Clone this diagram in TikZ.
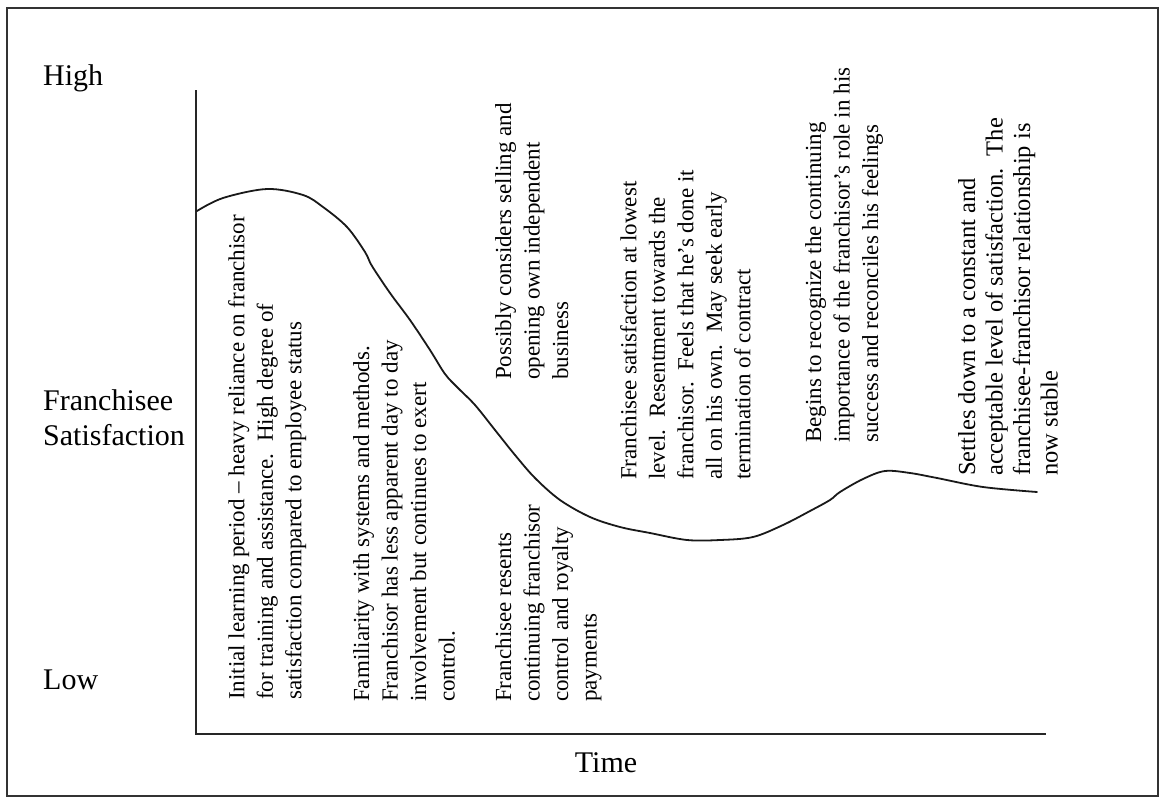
\documentclass[tikz,border=0pt]{standalone}
\usepackage{fontspec}
\setmainfont{Liberation Serif}
\begin{document}
\begin{tikzpicture}[x=1pt,y=-1pt,
  lab/.style={font=\fontsize{30}{35}\selectfont, inner sep=0pt},
  body/.style={font=\fontsize{23}{28.5}\selectfont, rotate=90, anchor=north west, align=left, inner sep=0pt},
  axisline/.style={line width=1.6pt, black!85},
  curveline/.style={line width=1.8pt, black!90, line join=round, line cap=round}]
\useasboundingbox (0,0) rectangle (1161,798);
\draw[line width=1.8pt, black!80] (7,8) rectangle (1158,796);
% axes
\coordinate (ytop) at (196,90);
\coordinate (orig) at (196,734);
\coordinate (xend) at (1046,734);
\draw[axisline] (ytop) -- (orig) -- (xend);
% axis labels
\node[lab, anchor=base west] (high) at (43,85) {High};
\node[lab, anchor=base west, align=left] (sat) at (43,445) {Franchisee\\Satisfaction};
\node[lab, anchor=base west] (low) at (43,689) {Low};
\node[lab, anchor=base] (time) at (606,772) {Time};
% curve
\draw[curveline] plot[smooth, tension=0.55] coordinates {
 (197,211) (223,198) (267,189) (303,195) (323,207) (347,227) (365,252) (372,266)
 (390,293) (410,320) (430,350) (445,374) (458,388) (475,405) (495,430) (515,455)
 (535,478) (560,500) (590,517) (620,527) (650,533) (687,540) (720,540) (753,537)
 (783,525) (810,511) (830,500) (840,492) (863,479) (885,471) (910,473) (937,478)
 (983,487) (1037,492)};
% text blocks
\node[body] (t1) at (228,700) {Initial learning period -- heavy reliance on franchisor\\for training and assistance.\ \ High degree of\\satisfaction compared to employee status};
\node[body] (t2) at (353,702) {Familiarity with systems and methods.\\Franchisor has less apparent day to day\\involvement but continues to exert\\control.};
\node[body] (t3) at (495,702) {Franchisee resents\\continuing franchisor\\control and royalty\\payments};
\node[body] (t4) at (495,380) {Possibly considers selling and\\opening own independent\\business};
\node[body] (t5) at (620,480) {Franchisee satisfaction at lowest\\level.\ \ Resentment towards the\\franchisor.\ \ Feels that he’s done it\\all on his own.\ \ May seek early\\termination of contract};
\node[body] (t6) at (805,443) {Begins to recognize the continuing\\importance of the franchisor’s role in his\\success and reconciles his feelings};
\node[body, font=\fontsize{24.5}{27.5}\selectfont] (t7) at (958,476) {Settles down to a constant and\\acceptable level of satisfaction.\ \ The\\franchisee-franchisor relationship is\\now stable};
\end{tikzpicture}
\end{document}
